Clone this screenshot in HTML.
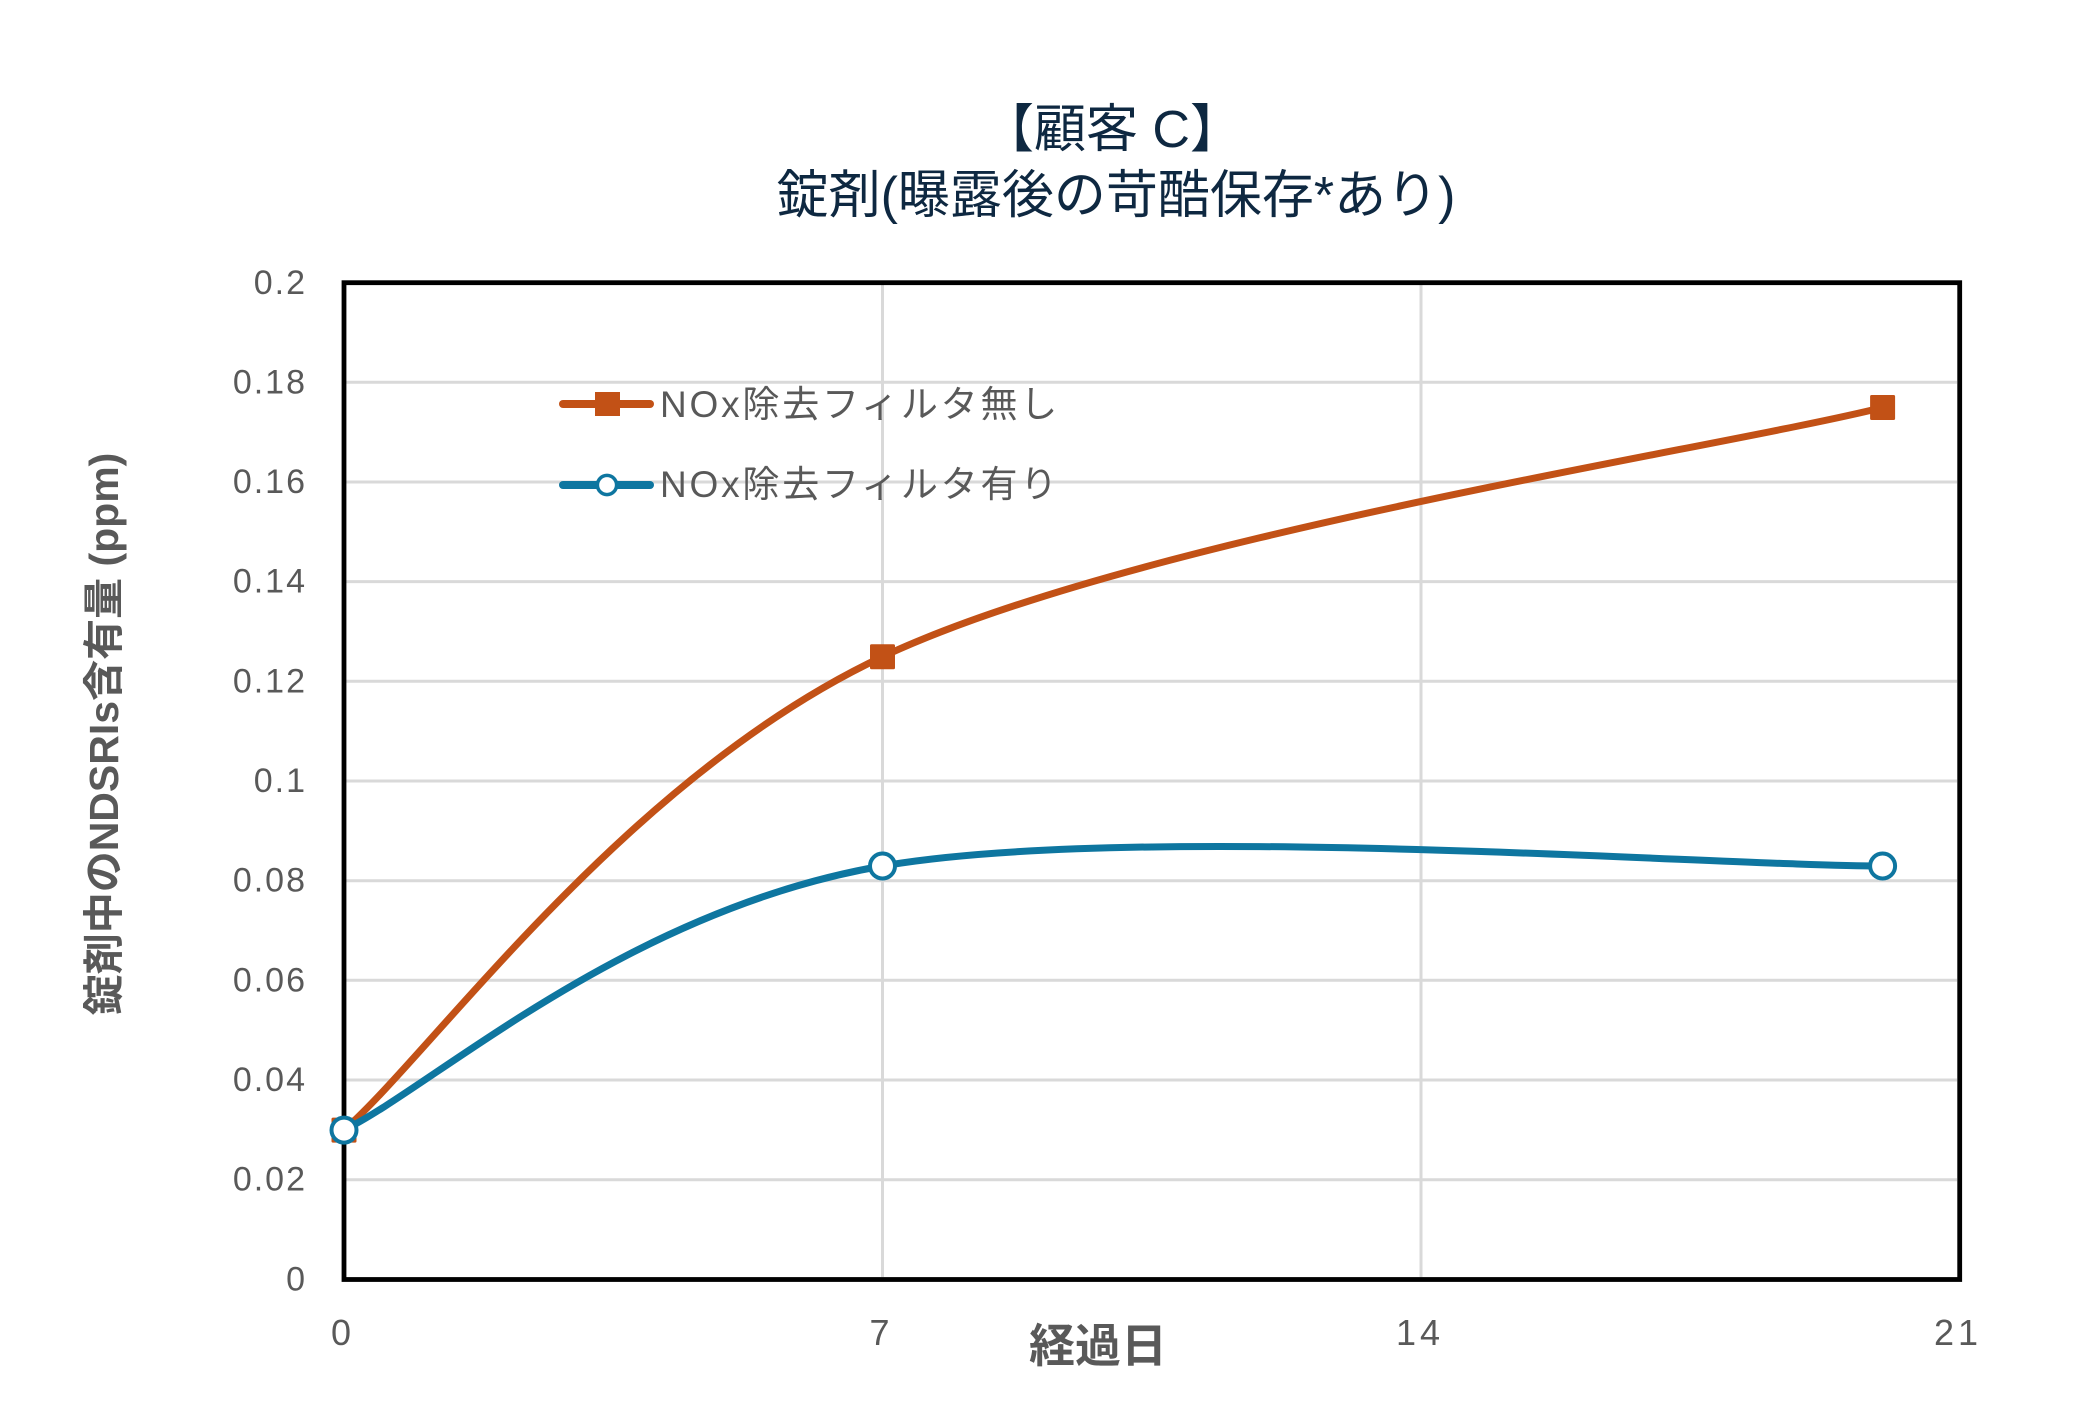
<!DOCTYPE html>
<html>
<head>
<meta charset="utf-8">
<style>
  html, body { margin: 0; padding: 0; background: #ffffff; }
  svg { display: block; }
  text { font-family: "Liberation Sans", "Noto Sans CJK JP", sans-serif; }
</style>
</head>
<body>
<svg width="2079" height="1412" viewBox="0 0 2079 1412" xmlns="http://www.w3.org/2000/svg">
  <rect x="0" y="0" width="2079" height="1412" fill="#ffffff"/>

  <!-- Title -->
  <text x="1112" y="147" font-size="52" fill="#0e2841" text-anchor="middle">【顧客 C】</text>
  <text x="1116" y="213" font-size="52" fill="#0e2841" text-anchor="middle">錠剤(曝露後の苛酷保存*あり)</text>

  <!-- Gridlines -->
  <g stroke="#d9d9d9" stroke-width="3">
    <line x1="346" y1="382.3" x2="1957" y2="382.3"/>
    <line x1="346" y1="482.0" x2="1957" y2="482.0"/>
    <line x1="346" y1="581.6" x2="1957" y2="581.6"/>
    <line x1="346" y1="681.3" x2="1957" y2="681.3"/>
    <line x1="346" y1="781.0" x2="1957" y2="781.0"/>
    <line x1="346" y1="880.7" x2="1957" y2="880.7"/>
    <line x1="346" y1="980.3" x2="1957" y2="980.3"/>
    <line x1="346" y1="1080.0" x2="1957" y2="1080.0"/>
    <line x1="346" y1="1179.7" x2="1957" y2="1179.7"/>
    <line x1="882.5" y1="285" x2="882.5" y2="1277"/>
    <line x1="1421" y1="285" x2="1421" y2="1277"/>
  </g>

  <!-- Plot border -->
  <rect x="344" y="282.7" width="1615.7" height="996.8" fill="none" stroke="#000000" stroke-width="4.8"/>

  <!-- Y tick labels -->
  <g font-size="34" fill="#595959" text-anchor="end" letter-spacing="2">
    <text x="307" y="293.9">0.2</text>
    <text x="307" y="393.3">0.18</text>
    <text x="307" y="493.0">0.16</text>
    <text x="307" y="592.6">0.14</text>
    <text x="307" y="692.3">0.12</text>
    <text x="307" y="792.0">0.1</text>
    <text x="307" y="891.7">0.08</text>
    <text x="307" y="991.3">0.06</text>
    <text x="307" y="1091.0">0.04</text>
    <text x="307" y="1190.7">0.02</text>
    <text x="307" y="1290.6">0</text>
  </g>

  <!-- X tick labels -->
  <g font-size="36" fill="#595959" text-anchor="middle" letter-spacing="4">
    <text x="343" y="1345">0</text>
    <text x="881.5" y="1345">7</text>
    <text x="1420" y="1345">14</text>
    <text x="1958" y="1345">21</text>
  </g>

  <!-- Axis titles -->
  <text x="1098" y="1362" font-size="46" font-weight="bold" fill="#595959" text-anchor="middle">経過日</text>
  <text transform="translate(118,734) rotate(-90)" x="0" y="0" font-size="41" font-weight="bold" fill="#595959" text-anchor="middle">錠剤中のNDSRIs含有量 (ppm)</text>

  <!-- Orange series -->
  <path d="M344,1130.1 C433.75,1051.2 626.1,777.1 882.5,656.7 C1138.9,536.3 1715.9,449.0 1882.6,407.5"
        fill="none" stroke="#c25116" stroke-width="7" stroke-linecap="round" stroke-linejoin="round"/>
  <g fill="#c25116">
    <rect x="331.5" y="1117.6" width="25" height="25" rx="1.5"/>
    <rect x="870" y="644.2" width="25" height="25" rx="1.5"/>
    <rect x="1870.1" y="395" width="25" height="25" rx="1.5"/>
  </g>

  <!-- Blue series -->
  <path d="M344,1130.1 C433.75,1086.1 626.1,910.0 882.5,866.0 C1138.9,822.0 1715.9,866.0 1882.6,866.0"
        fill="none" stroke="#0e76a0" stroke-width="7" stroke-linecap="round" stroke-linejoin="round"/>
  <g fill="#ffffff" stroke="#0e76a0" stroke-width="4">
    <circle cx="344" cy="1130.1" r="12.5"/>
    <circle cx="882.5" cy="866.0" r="12.5"/>
    <circle cx="1882.6" cy="866.0" r="12.5"/>
  </g>

  <!-- Legend -->
  <line x1="563" y1="404" x2="650" y2="404" stroke="#c25116" stroke-width="8" stroke-linecap="round"/>
  <rect x="595" y="392" width="25" height="24" fill="#c25116"/>
  <text x="660" y="417" font-size="37" fill="#595959" letter-spacing="2.8">NOx除去フィルタ無し</text>

  <line x1="563" y1="485" x2="650" y2="485" stroke="#0e76a0" stroke-width="8" stroke-linecap="round"/>
  <circle cx="607" cy="485" r="9.6" fill="#ffffff" stroke="#0e76a0" stroke-width="3.5"/>
  <text x="660" y="497" font-size="37" fill="#595959" letter-spacing="2.8">NOx除去フィルタ有り</text>
</svg>
</body>
</html>
